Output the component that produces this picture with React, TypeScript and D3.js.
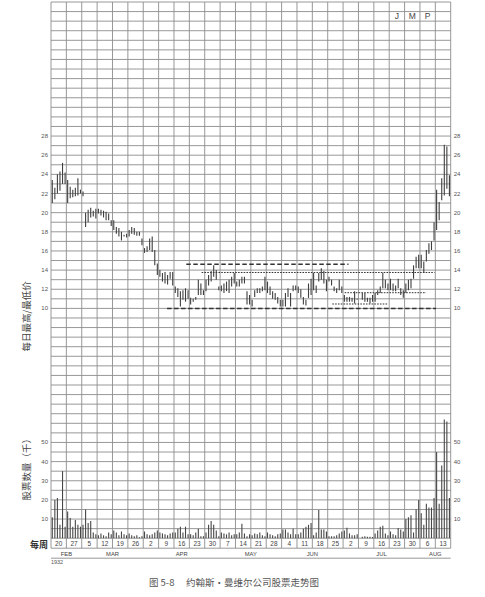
import React from "react";
import * as d3 from "d3";

const weekLabels = ["20","27","5","12","19","26","2","9","16","23","30","7","14","21","28","4","11","18","25","2","9","16","23","30","6","13"];
const monthNames = ["FEB","MAR","APR","MAY","JUN","JUL","AUG"];
const monthWeekCounts = [2,4,5,4,4,5,2];
const priceTicks = [10,12,14,16,18,20,22,24,26,28];
const volumeTicks = [10,20,30,40,50];

const dailyHigh: (number|null)[][] = [
  [23.4,22.6,24.0,24.3,25.2,24.2],
  [23.4,22.7,22.4,22.6,23.6,22.4],
  [22.2,20.0,20.3,20.5,20.2,20.4],
  [20.4,20.3,20.2,20.1,19.9,19.2],
  [19.2,18.5,18.4,18.0,17.7,17.8],
  [18.2,18.5,18.4,18.0,18.0,17.3],
  [16.3,16.5,17.3,17.5,16.1,14.7],
  [14.0,13.7,13.8,13.5,13.8,13.8],
  [12.3,12.1,11.8,11.9,12.1,11.9],
  [11.1,11.0,11.2,13.0,12.6,11.9],
  [13.0,13.5,13.9,14.5,14.0,12.3],
  [12.4,12.6,12.8,13.0,13.3,13.7],
  [12.8,13.0,13.3,13.3,11.8,11.4],
  [10.9,11.9,12.1,12.1,12.3,13.3],
  [12.8,12.3,11.8,11.6,11.2,10.9],
  [10.9,11.6,12.1,11.6,12.4,12.4],
  [12.3,12.0,11.2,10.9,12.6,13.1],
  [13.7,12.4,13.7,14.2,13.9,13.0],
  [13.3,13.0,12.3,12.1,13.0,12.3],
  [11.4,11.2,11.2,11.1,11.8,11.0],
  [null,11.6,11.6,11.1,11.1,11.4],
  [11.6,11.9,12.3,13.7,13.0,12.6],
  [13.1,12.6,12.4,13.1,12.1,11.9],
  [12.6,13.0,13.1,14.5,15.4,15.6],
  [15.6,14.9,16.1,16.8,17.0,19.0],
  [22.4,21.1,23.6,27.1,26.9,23.9],
];
const dailyLow: (number|null)[][] = [
  [21.0,21.4,22.0,22.3,23.0,23.0],
  [21.0,21.5,21.6,21.7,21.8,22.0],
  [21.7,18.5,19.0,19.5,19.6,19.4],
  [19.9,19.7,19.5,19.2,19.2,18.6],
  [18.2,17.8,17.5,17.1,17.5,17.4],
  [17.5,17.8,17.7,17.6,17.6,16.6],
  [15.8,15.9,16.1,15.9,14.5,13.5],
  [13.3,12.8,12.6,12.5,13.1,12.4],
  [11.6,11.2,10.2,10.9,10.7,11.0],
  [10.4,10.7,10.9,11.4,11.4,11.4],
  [11.8,12.4,12.8,13.3,13.0,11.9],
  [11.8,11.6,11.8,11.6,12.3,12.6],
  [12.3,12.3,12.6,12.6,10.4,10.4],
  [10.2,11.2,11.6,11.6,11.8,11.9],
  [11.6,11.4,11.0,10.9,10.5,10.2],
  [10.2,10.2,11.2,10.2,11.8,11.9],
  [11.6,11.1,10.4,10.3,11.1,11.4],
  [11.9,11.6,12.8,13.0,12.6,11.8],
  [12.8,12.4,11.8,11.6,11.9,11.6],
  [10.7,10.7,10.7,10.7,10.5,10.9],
  [null,10.9,10.7,10.7,10.5,10.7],
  [10.7,11.4,11.6,12.1,12.1,11.9],
  [11.9,11.8,11.8,12.1,11.4,11.1],
  [11.6,11.9,12.1,13.1,14.2,14.2],
  [14.2,13.7,14.9,15.7,16.1,17.1],
  [18.2,19.2,21.3,21.8,22.5,21.7],
];
const dailyVolume: number[][] = [
  [11,20,21,7,35,6],
  [14,10.5,6,9.5,7,6],
  [7,15,8,9,3,2],
  [1.5,2.5,1.5,1,3,2],
  [4,3,1.5,3.5,2,1.5],
  [2.5,1.5,1,1.5,0.5,1],
  [3.5,2,1.5,2,3,4],
  [3,2.5,2,1.5,2.5,3],
  [3,5,6,3,6,2],
  [2,1.5,3,5,1,1],
  [3,7,9,7,4,1],
  [3,2.5,2,3,1.5,2],
  [2,3,7.5,2.5,1,2],
  [1.5,2.5,2,3,1.5,1],
  [3,2,1.5,1,2,2.5],
  [4.5,4.5,3,2,5,2],
  [2,3,5,6,7,8],
  [1.5,3,14.7,4.5,4.5,3.5],
  [1,1,1,1.5,2.5,3.5],
  [4,5.5,2.5,1.5,1.5,2],
  [0,0.8,1,0.8,0.7,0.6],
  [2.5,4,6,6.5,2.5,1.5],
  [3.5,2,1.5,5.3,4.5,3.5],
  [10,11,12,3,15,20],
  [13,7,18,16,16,21],
  [45,18,38,62,61,21],
];
// annotation levels: [price, fromWeek, toWeek]
const dashedLevels: [number, number, number][] = [[14.6, 8.8, 19.35],[10.0, 7.55, 25.05]];
const dottedLevels: [number, number, number][] = [[13.75, 9.8, 24.95],[11.64, 19.1, 24.4],[10.46, 18.3, 21.9]];
const cornerLetters = ["J","M","P"];
const cornerWeeks = [22,23,24];

const W = 485, H = 597;
const left = 51, right = 450.7, top = 2, bottom = 538.2;
const rowH = 9.575;
const nWeeks = weekLabels.length;
const daysPerWeek = 6;

export default function App() {
  const xWeek = d3.scaleLinear().domain([0, nWeeks]).range([left, right]);
  const xDay = d3.scaleLinear().domain([0, nWeeks * daysPerWeek]).range([left, right]);
  const yP = d3.scaleLinear().domain([10, 42]).range([top + 32 * rowH, top]);
  const yV = d3.scaleLinear().domain([0, 50]).range([bottom, bottom - 10 * rowH]);
  const nRows = Math.round((bottom - top) / rowH);
  const gridColor = "#8c8c8c";
  const sans = "'Liberation Sans', Arial, sans-serif";
  const cjk = "'Noto Sans CJK SC', sans-serif";

  const bars: {x:number; h:number; l:number}[] = [];
  const vols: {x:number; v:number}[] = [];
  dailyHigh.forEach((wk, w) => wk.forEach((h, d) => {
    const l = dailyLow[w][d];
    const i = w * daysPerWeek + d;
    if (h != null && l != null) bars.push({ x: xDay(i + 0.5), h, l });
    const v = dailyVolume[w][d];
    if (v > 0) vols.push({ x: xDay(i + 0.5), v });
  }));

  const monthStarts = d3.cumsum([0, ...monthWeekCounts]);

  return (
    <svg width={W} height={H} style={{ position: "absolute", left: 0, top: 0, background: "#fff" }}>
      {d3.range(nRows + 1).map(r => (
        <line key={"h"+r} x1={left} x2={right} y1={top + r*rowH} y2={top + r*rowH} stroke={gridColor} strokeWidth={0.9} />
      ))}
      {d3.range(nWeeks + 1).map(k => (
        <line key={"v"+k} x1={xWeek(k)} x2={xWeek(k)} y1={top} y2={bottom + 10} stroke={gridColor} strokeWidth={0.9} />
      ))}
      <line x1={left} x2={right} y1={bottom + 10} y2={bottom + 10} stroke={gridColor} strokeWidth={0.9} />
      <line x1={left} x2={right} y1={bottom + 20} y2={bottom + 20} stroke={gridColor} strokeWidth={0.9} />
      {monthStarts.map((s, i) => (
        <line key={"m"+i} x1={xWeek(s)} x2={xWeek(s)} y1={bottom + 10} y2={bottom + 20} stroke={gridColor} strokeWidth={0.9} />
      ))}
      {weekLabels.map((t, k) => (
        <text key={"w"+k} x={xWeek(k + 0.5)} y={bottom + 7.5} fontSize={6.5} fontFamily={sans} fill="#444" textAnchor="middle">{t}</text>
      ))}
      {monthNames.map((m, i) => (
        <text key={"mn"+i} x={(xWeek(monthStarts[i]) + xWeek(monthStarts[i+1]))/2} y={bottom + 17.3} fontSize={5.8} fontFamily={sans} fill="#444" textAnchor="middle">{m}</text>
      ))}
      <text x={left + 2} y={bottom + 26} fontSize={5.5} fontFamily={sans} fill="#555" textAnchor="middle" dx={4}>1932</text>

      {priceTicks.map(p => (
        <g key={"p"+p}>
          <text x={left - 3} y={yP(p) + 2} fontSize={6} fontFamily={sans} fill="#555" textAnchor="end">{p}</text>
          <text x={right + 3} y={yP(p) + 2} fontSize={6} fontFamily={sans} fill="#555" textAnchor="start">{p}</text>
        </g>
      ))}
      {volumeTicks.map(v => (
        <g key={"vt"+v}>
          <text x={left - 3} y={yV(v) + 2} fontSize={6} fontFamily={sans} fill="#555" textAnchor="end">{v}</text>
          <text x={right + 3} y={yV(v) + 2} fontSize={6} fontFamily={sans} fill="#555" textAnchor="start">{v}</text>
        </g>
      ))}

      {dashedLevels.map(([p, a, b], i) => (
        <line key={"dl"+i} x1={xWeek(a)} x2={xWeek(b)} y1={yP(p)} y2={yP(p)} stroke="#333" strokeWidth={1.5} strokeDasharray="4.5,2.5" />
      ))}
      {dottedLevels.map(([p, a, b], i) => (
        <line key={"dt"+i} x1={xWeek(a)} x2={xWeek(b)} y1={yP(p)} y2={yP(p)} stroke="#333" strokeWidth={1} strokeDasharray="1.6,1.2" />
      ))}

      {bars.map((b, i) => (
        <line key={"b"+i} x1={b.x} x2={b.x} y1={yP(b.h)} y2={yP(b.l)} stroke="#3f3f3f" strokeWidth={1.1} />
      ))}
      {vols.map((b, i) => (
        <line key={"vb"+i} x1={b.x} x2={b.x} y1={yV(0)} y2={yV(b.v)} stroke="#474747" strokeWidth={1.1} />
      ))}

      {cornerLetters.map((c, i) => (
        <text key={"c"+i} x={xWeek(cornerWeeks[i] + 0.5)} y={top + 1.5*rowH + 3} fontSize={8.5} fontFamily={sans} fill="#444" textAnchor="middle">{c}</text>
      ))}

      <text transform={`translate(30,${yP(10) + 8}) rotate(-90)`} fontSize={9.5} fontFamily={cjk} fill="#444" textAnchor="middle">每日最高/最低价</text>
      <text transform={`translate(30,${yV(37)}) rotate(-90)`} fontSize={9.5} fontFamily={cjk} fill="#444" textAnchor="middle">股票数量（千）</text>
      <text x={39} y={bottom + 9.5} fontSize={9} fontFamily={cjk} fontWeight="bold" fill="#333" textAnchor="middle">每周</text>

      <text x={234} y={586} fontSize={9.5} fontFamily={cjk} fill="#555" textAnchor="middle">图 5-8　 约翰斯・曼维尔公司股票走势图</text>
    </svg>
  );
}
